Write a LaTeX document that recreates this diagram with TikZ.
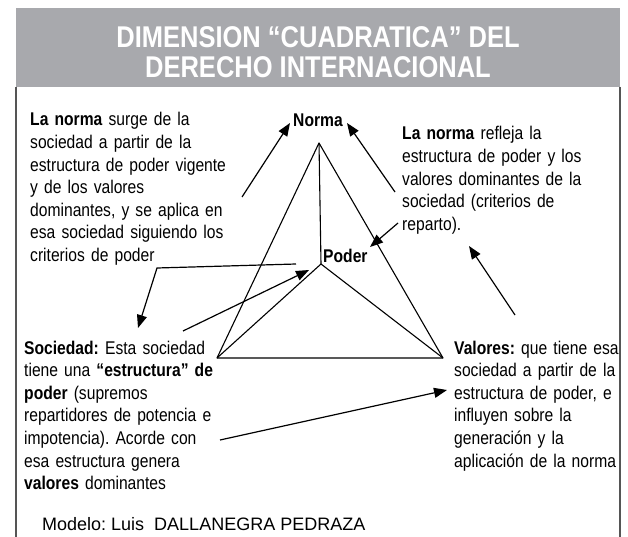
\documentclass[tikz,border=0pt]{standalone}
\usepackage{fontspec}
\setmainfont{Liberation Sans}
\newfontfamily\narrowfont{Liberation Sans}[FakeStretch=0.85]
\usepackage{xcolor}
\usepackage{tikz}
\usetikzlibrary{arrows.meta}
\definecolor{headgray}{HTML}{A8A9AD}
\definecolor{framegray}{HTML}{555555}
\frenchspacing
\tikzset{
  txt/.style={anchor=base west, inner sep=0pt, text width=260pt, align=left,
    font=\narrowfont\frenchspacing\fontsize{18.4}{22.6}\selectfont},
  lbl/.style={inner sep=0pt, font=\narrowfont\bfseries\fontsize{18.4}{21}\selectfont},
  ttl/.style={anchor=base, inner sep=0pt, text=white,
    font=\narrowfont\bfseries\fontsize{30}{30}\selectfont},
  arr/.style={line width=1.2pt, -{Triangle[length=13pt,width=10pt]}},
  edge/.style={line width=1.1pt, line join=round}
}

\begin{document}
\begin{tikzpicture}[x=1pt, y=-1pt]
    \useasboundingbox (0,0) rectangle (628,537);
    % header and frame
    \fill [headgray] (16,8) rectangle (620,87);
    \draw [framegray, line width=1.5pt] (16,87) -- (16,537);
    \draw [framegray, line width=1.5pt] (620,87) -- (620,537);
    \node (title1) [ttl] at (318,48) {DIMENSION “CUADRATICA” DEL};
    \node (title2) [ttl] at (318,78) {DERECHO INTERNACIONAL};

    % pyramid
    \coordinate (apex) at (319,143);
    \coordinate (inner) at (321,264);
    \coordinate (bl) at (217,358);
    \coordinate (br) at (443,358);
    \draw [edge] (bl) -- (apex) -- (br) -- cycle;
    \draw [edge] (apex) -- (inner);
    \draw [edge] (bl) -- (inner) -- (br);
    \node (norma) [lbl] at (318,120) {Norma};
    \node (poder) [lbl, anchor=west] at (323,256) {Poder};

    % texts
    \node (surge) [txt] at (30,126) {\textbf{La norma} surge de la\\
      sociedad a partir de la\\ estructura de poder vigente\\ y de los valores\\
      dominantes, y se aplica en\\ esa sociedad siguiendo los\\ criterios de poder};
    \node (refleja) [txt, text width=215pt] at (402,140) {\textbf{La norma} refleja la\\
      estructura de poder y los\\ valores dominantes de la\\ sociedad (criterios de\\ reparto).};
    \node (sociedad) [txt] at (24,354) {\textbf{Sociedad:} Esta sociedad\\
      tiene una \textbf{“estructura” de}\\ \textbf{poder} (supremos\\
      repartidores de potencia e\\ impotencia). Acorde con\\
      esa estructura genera\\ \textbf{valores} dominantes};
    \node (valores) [txt, text width=170pt] at (454,354) {\textbf{Valores:} que tiene esa\\
      sociedad a partir de la\\ estructura de poder, e\\ influyen sobre la\\
      generación y la\\ aplicación de la norma};
    \node (modelo) [anchor=base west, inner sep=0pt, font=\fontsize{18}{20}\selectfont]
      at (42,530) {Modelo: Luis\ \ DALLANEGRA PEDRAZA};

    % arrows
    \coordinate (a1) at (242,197); \coordinate (t1) at (290,123);
    \coordinate (a2) at (395,192); \coordinate (t2) at (347,123);
    \coordinate (a3) at (398,223); \coordinate (t3) at (370,247);
    \coordinate (a4) at (515,315); \coordinate (t4) at (469,246);
    \coordinate (bend) at (157,268);
    \coordinate (t5) at (138,328); \coordinate (t6) at (296,264);
    \coordinate (a7) at (183,331); \coordinate (t7) at (309,270);
    \coordinate (a8) at (220,440); \coordinate (t8) at (447,390);
    \draw [arr] (a1) -- (t1);
    \draw [arr] (a2) -- (t2);
    \draw [arr] (a3) -- (t3);
    \draw [arr] (a4) -- (t4);
    \draw [arr, {Triangle[length=13pt,width=10pt]}-] (t5) -- (bend) -- (t6);
    \draw [arr] (a7) -- (t7);
    \draw [arr] (a8) -- (t8);
\end{tikzpicture}
\end{document}
